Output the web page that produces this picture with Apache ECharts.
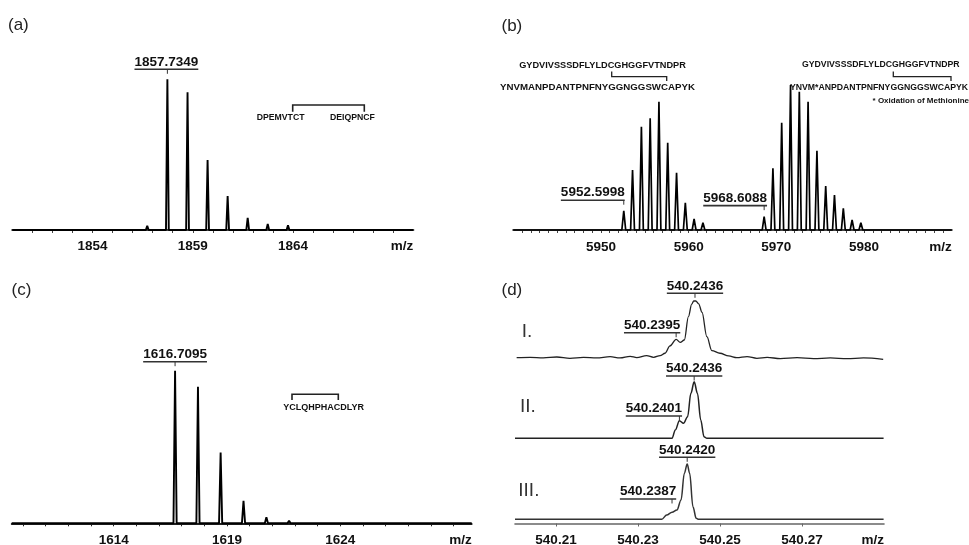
<!DOCTYPE html>
<html><head><meta charset="utf-8">
<script src="https://cdn.jsdelivr.net/npm/echarts@6/dist/echarts.min.js"></script>
<style>html,body{margin:0;padding:0;background:#fff}#c{width:969px;height:545px}</style>
</head><body><div id="c"></div>
<script>
// ---------------- DATA ----------------
// (a)
const a_peaks_mz  = [1856.73, 1857.7349, 1858.74, 1859.74, 1860.74, 1861.74, 1862.74, 1863.75];
const a_peaks_int = [2.7, 100, 91.4, 46.4, 22.6, 8.0, 4.0, 3.1];
const a_ticks = [1854, 1859, 1864];
// (b)
const b_peaks_mz  = [5952.5998, 5953.60, 5954.61, 5955.61, 5956.61, 5957.61, 5958.62, 5959.62, 5960.62, 5961.63,
                     5968.6088, 5969.61, 5970.61, 5971.62, 5972.62, 5973.62, 5974.63, 5975.63, 5976.63, 5977.64, 5978.64, 5979.64];
const b_peaks_int = [13.3, 41.4, 71.2, 77.0, 88.5, 60.2, 39.5, 18.8, 7.6, 5.0,
                     9.2, 42.6, 74.0, 100, 95.4, 88.5, 54.7, 30.3, 24.1, 15.0, 6.9, 5.0];
const b_ticks = [5950, 5960, 5970, 5980];
// (c)
const c_peaks_mz  = [1614.66, 1615.69, 1616.7095, 1617.72, 1618.72, 1619.73, 1620.74, 1621.74, 1622.75];
const c_peaks_int = [0.8, 0.8, 100, 89.5, 46.3, 14.8, 3.9, 1.7, 1.3];
const c_ticks = [1614, 1619, 1624];
// (d) profile spectra I, II, III
const d1_mz  = [540.2004, 540.2037, 540.2069, 540.2102, 540.2134, 540.2167, 540.2199, 540.2232, 540.2256, 540.2281,
                540.2297, 540.2321, 540.2338, 540.2354, 540.2366, 540.2378, 540.2393, 540.2403, 540.2413, 540.2423,
                540.2431, 540.2436, 540.2441, 540.2448, 540.2456, 540.2468, 540.2480, 540.2500, 540.2521, 540.2541, 540.2566,
                540.2590, 540.2615, 540.2647, 540.2688, 540.2728, 540.2769, 540.2810, 540.2850, 540.2898];
const d1_int = [1.1, 1.7, 0.6, 2.3, 0.0, 1.7, 0.6, 2.9, 0.6, 3.5,
                1.1, 4.7, 1.7, 4.7, 8.8, 21.4, 32.9, 27.7, 31.8, 72.3,
                94.0, 99.5, 99.5, 94.6, 80.0, 37.5, 13.4, 8.8, 4.1, 1.1, 2.9,
                0.0, 1.7, -0.6, 1.1, -0.6, 0.6, -0.6, 0.6, -1.7];
const d2_mz  = [540.2000, 540.2383, 540.2391, 540.2401, 540.2411, 540.2421, 540.2429, 540.2437, 540.2445, 540.2453, 540.2461, 540.2468, 540.2899];
const d2_int = [0, 0, 14.7, 31.1, 26.5, 38.2, 79.5, 100, 79.5, 32.3, 2.8, 0, 0];
const d3_mz  = [540.2000, 540.2358, 540.2370, 540.2383, 540.2395, 540.2405, 540.2413, 540.2420, 540.2426, 540.2434, 540.2442, 540.2448, 540.2899];
const d3_int = [0, 0, 7.8, 12.7, 16.8, 34.9, 83.2, 100, 83.2, 22.8, 1.8, 0, 0];
const d_ticks = [540.21, 540.23, 540.25, 540.27];

// annotations (peak labels)
const annotations = [
  {grid: 0, mz: a_peaks_mz[1], h: a_peaks_int[1], text: '1857.7349', shift: -1, lift: 10},
  {grid: 1, mz: b_peaks_mz[0], h: b_peaks_int[0], text: '5952.5998', shift: -31, lift: 10.5},
  {grid: 1, mz: b_peaks_mz[10], h: b_peaks_int[10], text: '5968.6088', shift: -29, lift: 11},
  {grid: 2, mz: c_peaks_mz[2], h: c_peaks_int[2], text: '1616.7095', shift: 0, lift: 9},
  {grid: 3, mz: 540.2439, h: 100, text: '540.2436', shift: 0, lift: 7.4},
  {grid: 3, mz: 540.2393, h: 32.9, text: '540.2395', shift: -24, lift: 6.6},
  {grid: 4, mz: 540.2437, h: 100, text: '540.2436', shift: 0, lift: 5.7},
  {grid: 4, mz: 540.2401, h: 31.1, text: '540.2401', shift: -25.5, lift: 4.7},
  {grid: 5, mz: 540.2420, h: 100, text: '540.2420', shift: 0, lift: 6.7},
  {grid: 5, mz: 540.2383, h: 12.7, text: '540.2387', shift: -24, lift: 13.3}
];

// ---------------- CHART ----------------
const fam = '"Liberation Sans", Arial, Helvetica, sans-serif';
const chart = echarts.init(document.getElementById('c'), null, {renderer: 'canvas', width: 969, height: 545});

function stick(mzs, ints, w, lo, hi) {
  const d = [[lo, 0]];
  for (let i = 0; i < mzs.length; i++) {
    d.push([mzs[i] - w, 0], [mzs[i], ints[i]], [mzs[i] + w, 0]);
  }
  d.push([hi, 0]);
  return d;
}
function pairs(xs, ys) { return xs.map((x, i) => [x, ys[i]]); }
function intRange(a, b) { const r = []; for (let v = a; v <= b; v++) r.push(v); return r; }

const gridBoxes = [
  {left: 12.3, top: 79.3, width: 401, height: 150.7},
  {left: 513.3, top: 85, width: 438.4, height: 145},
  {left: 11.7, top: 370.7, width: 460, height: 152.6},
  {left: 515, top: 300.7, width: 369, height: 57.6},
  {left: 515, top: 381.7, width: 369, height: 56.6},
  {left: 515, top: 464, width: 369, height: 59.5}
];
const grids = gridBoxes.map(g => Object.assign({containLabel: false, outerBoundsMode: 'none', show: false}, g));

function xAxis(gi, min, max, tickVals, labelVals, lineColor, lineWidth, margin, fmt) {
  return {
    gridIndex: gi, type: 'value', min: min, max: max,
    axisLine: {show: true, onZero: false, lineStyle: {color: lineColor, width: lineWidth}},
    axisTick: {show: true, inside: false, length: 3, customValues: tickVals, lineStyle: {color: lineColor, width: 1}},
    axisLabel: {show: true, customValues: labelVals, margin: margin, color: '#111', fontFamily: fam, fontWeight: 'bold', fontSize: 13.5,
                formatter: fmt || (v => String(Math.round(v)))},
    splitLine: {show: false},
    name: 'm/z', nameLocation: 'end', nameGap: 0,
    nameTextStyle: {color: '#111', fontFamily: fam, fontWeight: 'bold', fontSize: 13.5, align: 'right', verticalAlign: 'top', padding: [margin, 0, 0, 0]}
  };
}
function hiddenX(gi, min, max) {
  return {gridIndex: gi, type: 'value', min: min, max: max, show: false};
}

const xAxes = [
  xAxis(0, 1850, 1870, intRange(1851, 1869), a_ticks, '#444', 2.2, 9),
  xAxis(1, 5940, 5990, intRange(5941, 5989), b_ticks, '#444', 2.2, 10),
  xAxis(2, 1609.5, 1629.8, intRange(1610, 1629), c_ticks, '#222', 1.8, 10),
  hiddenX(3, 540.20, 540.29),
  hiddenX(4, 540.20, 540.29),
  xAxis(5, 540.20, 540.29, d_ticks, d_ticks, '#666', 1.6, 9.5, v => v.toFixed(2))
];
const yAxes = [
  {gridIndex: 0, type: 'value', min: 0, max: 100, show: false},
  {gridIndex: 1, type: 'value', min: 0, max: 100, show: false},
  {gridIndex: 2, type: 'value', min: 0, max: 100, show: false},
  {gridIndex: 3, type: 'value', min: 0, max: 100, show: false},
  {gridIndex: 4, type: 'value', min: 0, max: 100, show: false},
  {gridIndex: 5, type: 'value', min: -7.6, max: 100, show: false}
];

function lineSeries(i, data, color, width, smooth) {
  return {type: 'line', xAxisIndex: i, yAxisIndex: i, data: data, symbol: 'none', clip: false,
          smooth: smooth || false, smoothMonotone: smooth ? 'x' : undefined,
          lineStyle: {color: color, width: width}, animation: false, silent: true};
}

const series = [
  lineSeries(0, stick(a_peaks_mz, a_peaks_int, 0.07, 1850, 1870), '#000', 1.9),
  lineSeries(1, stick(b_peaks_mz, b_peaks_int, 0.22, 5940, 5990), '#000', 1.7),
  lineSeries(2, stick(c_peaks_mz, c_peaks_int, 0.07, 1609.5, 1629.8), '#000', 1.9),
  lineSeries(3, pairs(d1_mz, d1_int), '#222', 1.3, 0.35),
  lineSeries(4, pairs(d2_mz, d2_int), '#222', 1.5, 0.35),
  lineSeries(5, pairs(d3_mz, d3_int), '#333', 1.5, 0.35)
];

chart.setOption({
  animation: false,
  backgroundColor: '#fff',
  grid: grids, xAxis: xAxes, yAxis: yAxes, series: series
});

// ---------------- TEXT / ANNOTATIONS ----------------
const cvs = document.createElement('canvas').getContext('2d');
function tw(str, font) { cvs.font = font; return cvs.measureText(str).width; }

function txt(str, x, y, size, weight, align, color) {
  const font = (weight || 'normal') + ' ' + size + 'px ' + fam;
  return {type: 'text', z: 100, x: x, y: y, silent: true,
          style: {text: str, font: font, fill: color || '#111',
                  textAlign: align || 'left', textVerticalAlign: 'middle', align: align || 'left', verticalAlign: 'middle'}};
}
function poly(points, w, color) {
  return {type: 'polyline', z: 100, silent: true, shape: {points: points}, style: {stroke: color || '#222', lineWidth: w || 1.3, fill: null}};
}

const g = [];
// panel letters
g.push(txt('(a)', 8, 25.5, 17, 'normal', 'left', '#222'));
g.push(txt('(b)', 501.5, 26.5, 17, 'normal', 'left', '#222'));
g.push(txt('(c)', 11.5, 290.5, 17, 'normal', 'left', '#222'));
g.push(txt('(d)', 501.5, 290.5, 17, 'normal', 'left', '#222'));
// (a) peptide
g.push(txt('DPEMVTCT', 256.7, 117.5, 8.7, 'bold'));
g.push(txt('DEIQPNCF', 330, 117.5, 8.7, 'bold'));
g.push(poly([[292.7, 111.7], [292.7, 105], [364.3, 105], [364.3, 111.7]], 1.6));
// (c) peptide
g.push(txt('YCLQHPHACDLYR', 283.3, 407.3, 9, 'bold'));
g.push(poly([[292, 400], [292, 394.3], [338.3, 394.3], [338.3, 400]], 1.6));
// (b) peptides
g.push(txt('GYDVIVSSSDFLYLDCGHGGFVTNDPR', 602.5, 65, 9.2, 'bold', 'center'));
g.push(txt('YNVMANPDANTPNFNYGGNGGSWCAPYK', 597.5, 87.3, 9.7, 'bold', 'center'));
g.push(poly([[611.7, 71.5], [611.7, 76.7], [666.7, 76.7], [666.7, 81]], 1.3));
g.push(txt('GYDVIVSSSDFLYLDCGHGGFVTNDPR', 880.8, 65, 8.7, 'bold', 'center'));
g.push(txt('YNVM*ANPDANTPNFNYGGNGGSWCAPYK', 790, 87.3, 8.7, 'bold', 'left'));
g.push(poly([[893.3, 71.5], [893.3, 76.7], [951, 76.7], [951, 81]], 1.3));
g.push(txt('* Oxidation of Methionine', 969, 100.7, 8, 'bold', 'right'));
// (d) roman numerals
g.push(txt('I.', 521.7, 331.7, 19, 'normal', 'left', '#333'));
g.push(txt('II.', 520, 406.7, 19, 'normal', 'left', '#333'));
g.push(txt('III.', 518.3, 490.8, 19, 'normal', 'left', '#333'));

// peak labels, placed through the chart's own scales
const labFont = 'bold 13.5px ' + fam;
annotations.forEach(a => {
  const p = chart.convertToPixel({gridIndex: a.grid}, [a.mz, a.h]);
  const uy = p[1] - a.lift;
  const cx = p[0] + a.shift;
  const w = tw(a.text, labFont);
  g.push({type: 'text', z: 100, silent: true, x: cx, y: uy - 0.5,
          style: {text: a.text, font: labFont, fill: '#111', textAlign: 'center', textVerticalAlign: 'bottom', align: 'center', verticalAlign: 'bottom'}});
  g.push(poly([[cx - w / 2, uy], [cx + w / 2, uy]], 1.6, '#333'));
  g.push(poly([[p[0], uy], [p[0], uy + 4.5]], 1, '#333'));
});

chart.setOption({graphic: g});
</script>
</body></html>
